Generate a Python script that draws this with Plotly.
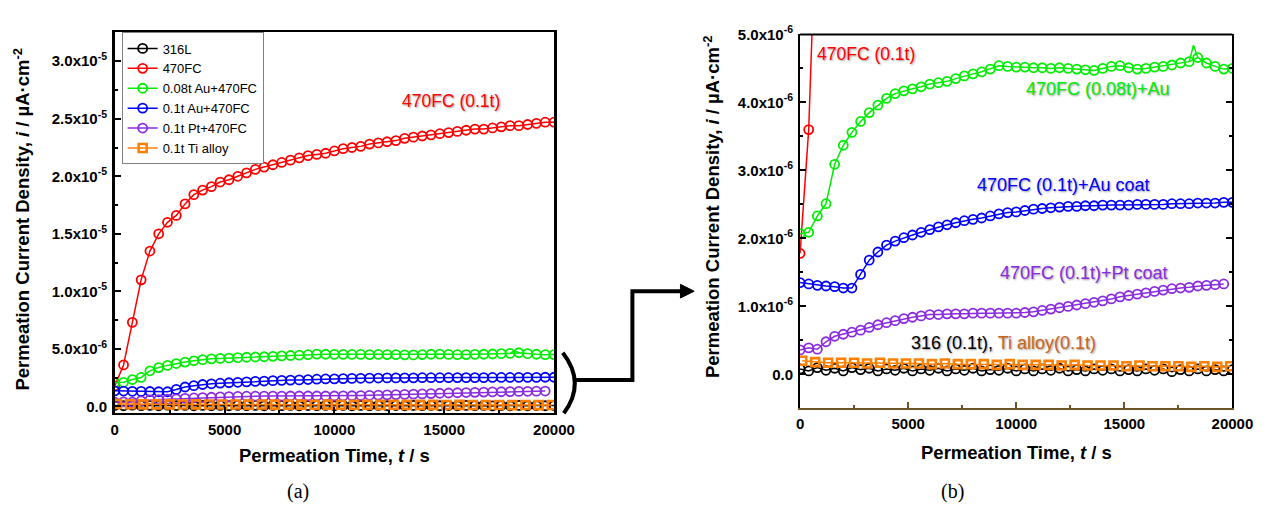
import plotly.graph_objects as go

W, H = 1273, 507

# ---------------- data (current density in units of 1e-6 uA/cm2) ----------------
time_s = [0, 400, 800, 1200, 1600, 2000, 2400, 2800, 3200, 3600, 4000, 4400, 4800, 5200,
          5600, 6000, 6400, 6800, 7200, 7600, 8000, 8400, 8800, 9200, 9600, 10000, 10400,
          10800, 11200, 11600, 12000, 12400, 12800, 13200, 13600, 14000, 14400, 14800,
          15200, 15600, 16000, 16400, 16800, 17200, 17600, 18000, 18400, 18800, 19200,
          19600, 20000]

i_316L = [0.08, 0.05, 0.10, 0.06, 0.09, 0.05, 0.10, 0.07, 0.09, 0.05, 0.08, 0.06, 0.09,
          0.05, 0.08, 0.06, 0.09, 0.05, 0.08, 0.06, 0.09, 0.05, 0.07, 0.06, 0.09, 0.05,
          0.08, 0.05, 0.08, 0.06, 0.09, 0.05, 0.07, 0.05, 0.08, 0.06, 0.08, 0.05, 0.07,
          0.05, 0.08, 0.06, 0.08, 0.04, 0.07, 0.05, 0.08, 0.05, 0.07, 0.05, 0.07]

i_470FC = [1.78, 3.6, 7.3, 11.0, 13.5, 15.0, 16.0, 16.6, 17.6, 18.4, 18.8, 19.1, 19.5,
           19.7, 20.0, 20.3, 20.6, 20.8, 21.0, 21.2, 21.4, 21.6, 21.8, 21.9, 22.0, 22.2,
           22.4, 22.5, 22.6, 22.8, 22.9, 23.0, 23.1, 23.3, 23.4, 23.5, 23.6, 23.7, 23.8,
           23.9, 24.0, 24.1, 24.1, 24.2, 24.3, 24.4, 24.4, 24.5, 24.6, 24.7, 24.7]

i_008Au = [2.07, 2.09, 2.33, 2.51, 3.09, 3.37, 3.56, 3.72, 3.85, 3.96, 4.06, 4.13, 4.17,
           4.20, 4.23, 4.27, 4.29, 4.31, 4.35, 4.39, 4.42, 4.45, 4.49, 4.54, 4.53, 4.52,
           4.52, 4.51, 4.51, 4.50, 4.51, 4.50, 4.49, 4.48, 4.47, 4.50, 4.53, 4.54, 4.51,
           4.49, 4.50, 4.52, 4.53, 4.55, 4.58, 4.60, 4.66, 4.58, 4.53, 4.49, 4.50]
# short transient spike in the 0.08t Au record (between two plotted markers)
spike_time_s = [18000, 18200, 18400]
spike_i = [4.60, 4.84, 4.66]

i_01Au = [1.35, 1.33, 1.31, 1.30, 1.29, 1.27, 1.27, 1.47, 1.68, 1.80, 1.90, 1.96, 2.01,
          2.05, 2.09, 2.13, 2.17, 2.20, 2.23, 2.26, 2.28, 2.30, 2.33, 2.36, 2.38, 2.39,
          2.41, 2.43, 2.44, 2.45, 2.46, 2.47, 2.47, 2.48, 2.48, 2.49, 2.49, 2.49, 2.49,
          2.50, 2.50, 2.50, 2.50, 2.51, 2.51, 2.51, 2.52, 2.52, 2.52, 2.53, 2.53]

i_01Pt = [0.36, 0.39, 0.37, 0.48, 0.56, 0.59, 0.62, 0.65, 0.69, 0.73, 0.76, 0.79, 0.82,
          0.84, 0.86, 0.88, 0.88, 0.89, 0.89, 0.89, 0.90, 0.90, 0.90, 0.90, 0.90, 0.90,
          0.91, 0.92, 0.94, 0.96, 0.98, 1.00, 1.02, 1.04, 1.06, 1.08, 1.11, 1.14, 1.16,
          1.18, 1.20, 1.22, 1.24, 1.26, 1.27, 1.28, 1.30, 1.31, 1.32, 1.33]

ti_time_s = [100, 700, 1300, 1900, 2500, 3100, 3700, 4300, 4900, 5500, 6100, 6700, 7300,
             7900, 8500, 9100, 9700, 10300, 10900, 11500, 12100, 12700, 13300, 13900,
             14500, 15100, 15700, 16300, 16900, 17500, 18100, 18700, 19300, 19900]
i_Ti = [0.20, 0.18, 0.17, 0.17, 0.17, 0.16, 0.17, 0.16, 0.16, 0.16, 0.15, 0.16, 0.15,
        0.15, 0.15, 0.14, 0.15, 0.14, 0.14, 0.14, 0.13, 0.14, 0.13, 0.13, 0.13, 0.12,
        0.13, 0.12, 0.12, 0.12, 0.11, 0.12, 0.11, 0.12]

series_names = ["316L", "470FC", "0.08t Au+470FC", "0.1t Au+470FC", "0.1t Pt+470FC", "0.1t Ti alloy"]
series_colors = ["#000000", "#FF0000", "#00EE00", "#0000FF", "#8A2BE2", "#FF8000"]

# axis ticks
ya_vals = [0, 5e-6, 1e-5, 1.5e-5, 2e-5, 2.5e-5, 3e-5]
ya_text = ["0.0", "5.0x10<sup>-6</sup>", "1.0x10<sup>-5</sup>", "1.5x10<sup>-5</sup>",
           "2.0x10<sup>-5</sup>", "2.5x10<sup>-5</sup>", "3.0x10<sup>-5</sup>"]
yb_vals = [0, 1e-6, 2e-6, 3e-6, 4e-6, 5e-6]
yb_text = ["0.0", "1.0x10<sup>-6</sup>", "2.0x10<sup>-6</sup>", "3.0x10<sup>-6</sup>",
           "4.0x10<sup>-6</sup>", "5.0x10<sup>-6</sup>"]
x_vals = [0, 5000, 10000, 15000, 20000]

SCALE = 1e-6
FONT = "Arial, Liberation Sans, sans-serif"

def sc(v):
    return [a * SCALE for a in v]

xs = [time_s, time_s, time_s, time_s, time_s[:len(i_01Pt)], ti_time_s]
ys = [i_316L, i_470FC, i_008Au, i_01Au, i_01Pt, i_Ti]
symbols = ["circle-open", "circle-open", "circle-open", "circle-open", "circle-open", "square-open"]

fig = go.Figure()
for panel, (xa, ya) in enumerate([("x", "y"), ("x2", "y2")]):
    fig.add_trace(go.Scatter(x=spike_time_s, y=sc(spike_i), mode="lines", xaxis=xa, yaxis=ya,
                             line=dict(color=series_colors[2], width=1.5), showlegend=False,
                             hoverinfo="skip"))
    for k in range(6):
        is_sq = symbols[k] == "square-open"
        fig.add_trace(go.Scatter(
            x=xs[k], y=sc(ys[k]), mode="lines+markers", name=series_names[k],
            xaxis=xa, yaxis=ya, showlegend=(panel == 0),
            line=dict(color=series_colors[k], width=1.5),
            marker=dict(symbol=symbols[k], size=8 if is_sq else 9,
                        color=series_colors[k],
                        line=dict(width=2.6 if is_sq else 1.8, color=series_colors[k])),
        ))

def px(x):
    return x / W

def py(y):
    return 1 - y / H

tickfont = dict(family=FONT, size=15, color="black", weight="bold")

fig.update_layout(
    width=W, height=H, margin=dict(l=0, r=0, t=0, b=0),
    paper_bgcolor="white", plot_bgcolor="white",
    font=dict(family=FONT, color="black"),
    showlegend=True,
    legend=dict(x=px(120), y=py(22), xanchor="left", yanchor="top",
                bgcolor="white", bordercolor="#808080", borderwidth=1,
                font=dict(family=FONT, size=13, color="black"),
                tracegroupgap=0, itemwidth=30),
    xaxis=dict(domain=[px(113), px(561)], range=[0, 20000], anchor="y",
               showline=True, linecolor="black", linewidth=2, mirror=True,
               ticks="inside", ticklen=6, tickwidth=1.5, tickcolor="black",
               tickvals=x_vals, ticktext=[str(v) for v in x_vals], tickfont=tickfont,
               ticklabelstandoff=2,
               minor=dict(ticks="inside", ticklen=3, tickmode="linear", tick0=0, dtick=2500, tickcolor="black"),
               showgrid=False, zeroline=False),
    yaxis=dict(domain=[py(412), py(22)], range=[-6e-7, 3.25e-5], anchor="x",
               showline=True, linecolor="black", linewidth=2.5, mirror=True,
               ticks="inside", ticklen=6, tickwidth=1.5, tickcolor="black",
               tickvals=ya_vals, ticktext=ya_text, tickfont=tickfont, ticklabelstandoff=2,
               minor=dict(ticks="inside", ticklen=3, tickmode="linear", tick0=0, dtick=2.5e-6, tickcolor="black"),
               showgrid=False, zeroline=False),
    xaxis2=dict(domain=[px(812), px(1253)], range=[0, 20000], anchor="y2",
                showline=True, linecolor="#6B5524", linewidth=2, mirror=False,
                ticks="inside", ticklen=6, tickwidth=1.5, tickcolor="#6B5524",
                tickvals=x_vals, ticktext=[str(v) for v in x_vals], tickfont=tickfont,
                ticklabelstandoff=1,
                minor=dict(ticks="inside", ticklen=3, tickmode="linear", tick0=0, dtick=2500, tickcolor="#6B5524"),
                showgrid=False, zeroline=False),
    yaxis2=dict(domain=[py(407), py(24)], range=[-5e-7, 5e-6], anchor="x2",
                showline=True, linecolor="black", linewidth=2, mirror="ticks",
                ticks="inside", ticklen=6, tickwidth=1.5, tickcolor="black",
                tickvals=yb_vals, ticktext=yb_text, tickfont=tickfont, ticklabelstandoff=2,
                minor=dict(ticks="inside", ticklen=3, tickmode="linear", tick0=0, dtick=5e-7, tickcolor="black"),
                showgrid=False, zeroline=False),
)

fig.add_shape(type="line", xref="x2 domain", yref="y2 domain", x0=0, x1=1, y0=1, y1=1,
              line=dict(color="black", width=2))

ann = []
def add_text(x, y, text, size, color="black", angle=0, family=FONT, shadow=None):
    f = dict(family=family, size=size, color=color)
    if shadow:
        f["shadow"] = shadow
    ann.append(dict(x=px(x), y=py(y), xref="paper", yref="paper", text=text, showarrow=False,
                    xanchor="center", yanchor="middle", textangle=angle, font=f))

ytitle = "<b>Permeation Current Density, <i>i</i> / µA·cm<sup>-2</sup></b>"
xtitle = "<b>Permeation Time, <i>t</i> / s</b>"
add_text(18, 213, ytitle, 18.5, angle=-90)
add_text(722, 200, ytitle, 18.5, angle=-90)
add_text(337, 455, xtitle, 18.5)
add_text(1033, 452, xtitle, 18.5)
add_text(300, 492, "(a)", 20, family="Liberation Serif, Times New Roman, serif")
add_text(967, 492, "(b)", 20, family="Liberation Serif, Times New Roman, serif")

sh = "1px 1px 2px #9a9a9a"
add_text(456, 92, "470FC (0.1t)", 17.5, color="#FF0000", shadow=sh)
add_text(879, 44, "470FC (0.1t)", 17.5, color="#FF0000", shadow=sh)
add_text(1116, 80, "470FC (0.08t)+Au", 18, color="#00EE00", shadow=sh)
add_text(1081, 178, "470FC (0.1t)+Au coat", 18, color="#0000FF", shadow=sh)
add_text(1102, 268, "470FC (0.1t)+Pt coat", 18, color="#8A2BE2", shadow=sh)
add_text(1020, 340, "316 (0.1t), <span style='color:#C8641E'>Ti alloy(0.1t)</span>", 18,
         color="black", shadow=sh)
fig.update_layout(annotations=ann)

def P(x, y):
    return f"{px(x):.5f},{py(y):.5f}"

fig.add_shape(type="path", xref="paper", yref="paper",
              path=f"M {P(570, 350)} Q {P(594, 381)} {P(571, 412)}",
              line=dict(color="black", width=4))
fig.add_shape(type="path", xref="paper", yref="paper",
              path=f"M {P(583, 378)} L {P(641, 378)} L {P(641, 287)} L {P(692, 287)}",
              line=dict(color="black", width=4))
fig.add_shape(type="path", xref="paper", yref="paper",
              path=f"M {P(690, 280)} L {P(704, 287)} L {P(690, 294)} Z",
              fillcolor="black", line=dict(color="black", width=1))

fig.write_html("out.html")
